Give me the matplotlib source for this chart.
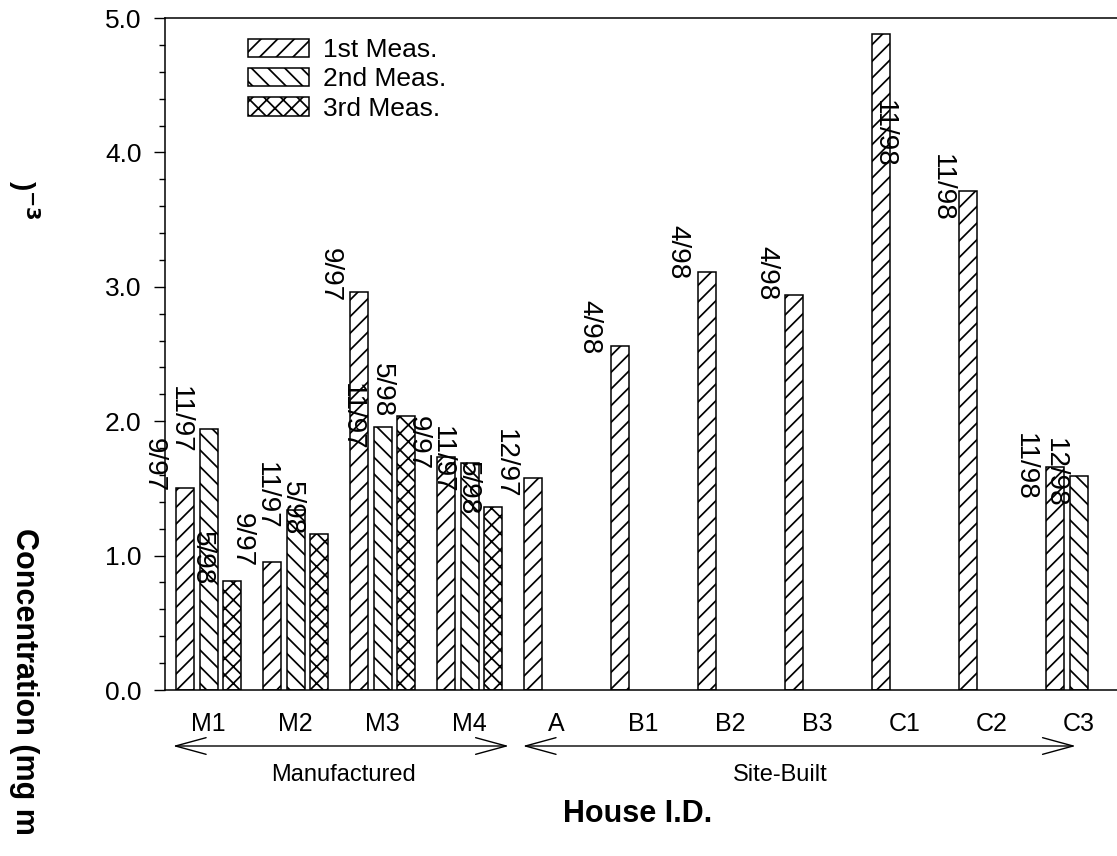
import numpy as np
import matplotlib
matplotlib.use("Agg")
import matplotlib.pyplot as plt
from matplotlib.patches import FancyArrowPatch
import matplotlib.transforms as mtransforms

plt.rcParams['font.family'] = ['Liberation Sans', 'DejaVu Sans']
plt.rcParams['hatch.linewidth'] = 1.25
plt.rcParams['mathtext.default'] = 'bf'

# ---------------- data ----------------
houses = ['M1', 'M2', 'M3', 'M4', 'A', 'B1', 'B2', 'B3', 'C1', 'C2', 'C3']
series_names = ['1st Meas.', '2nd Meas.', '3rd Meas.']
meas1 = [1.50, 0.95, 2.96, 1.73, 1.58, 2.56, 3.11, 2.94, 4.88, 3.71, 1.66]
meas2 = [1.94, 1.34, 1.96, 1.69, None, None, None, None, None, None, 1.59]
meas3 = [0.81, 1.16, 2.04, 1.36, None, None, None, None, None, None, None]

# date labels: text, x (data), y (data)
date_text = ['9/97', '11/97', '5/98', '9/97', '11/97', '5/98',
             '9/97', '11/97', '5/98', '9/97', '11/97', '5/98',
             '12/97', '4/98', '4/98', '4/98', '11/98', '11/98', '11/98', '12/98']
date_x = [-0.627, -0.334, -0.076, 0.384, 0.660, 0.959,
          1.395, 1.648, 1.992, 2.406, 2.682, 2.981,
          3.406, 4.382, 5.393, 6.416, 7.760, 8.427, 9.380, 9.725]
date_y = [1.674, 2.009, 0.982, 1.116, 1.443, 1.354,
          3.088, 2.031, 2.232, 1.838, 1.711, 1.503,
          1.682, 2.701, 3.259, 3.103, 4.137, 3.735, 1.659, 1.615]

groups = ['Manufactured', 'Site-Built']
group_span = [(-0.409, 3.451), (3.612, 9.966)]
group_text_x = [1.555, 6.565]

yticks = [0.0, 1.0, 2.0, 3.0, 4.0, 5.0]

# ---------------- figure ----------------
W, H = 1117, 856
fig = plt.figure(figsize=(W / 100, H / 100), dpi=100)
ax = fig.add_axes([165 / W, 166 / H, (W - 165) / W, 672 / H])

offsets = [-0.27, 0.0, 0.27]
width = 0.207
hatches = ['//', '\\\\', 'xx']
series = [meas1, meas2, meas3]
x = np.arange(len(houses))
for s, (vals, off, hat, name) in enumerate(zip(series, offsets, hatches, series_names)):
    idx = [i for i, v in enumerate(vals) if v is not None]
    ax.bar(x[idx] + off, [vals[i] for i in idx], width=width, hatch=hat,
           facecolor='white', edgecolor='black', linewidth=1.1, label=name)

for t, tx, ty in zip(date_text, date_x, date_y):
    ax.text(tx, ty, t, rotation=270, ha='center', va='center', fontsize=20)

ax.set_xlim(-0.5, 10.44)
ax.set_ylim(0, 5.0)
ax.set_xticks(x)
ax.set_xticklabels(houses, fontsize=18)
ax.set_yticks(yticks)
ax.set_yticklabels([f'{v:.1f}' for v in yticks], fontsize=19)
ax.set_yticks(np.arange(0, 5.01, 0.2), minor=True)
ax.tick_params(axis='x', length=0, pad=16)
ax.tick_params(axis='y', which='major', length=8, width=1.0, pad=9, direction='out')
ax.tick_params(axis='y', which='minor', length=4.5, width=1.0, direction='out')
ax.spines['right'].set_visible(False)
for sp in ['left', 'bottom', 'top']:
    ax.spines[sp].set_linewidth(1.1)

leg = ax.legend(loc='upper left', bbox_to_anchor=(248 / W, 1 - 38 / H),
                bbox_transform=fig.transFigure, frameon=False, fontsize=19,
                handlelength=2.3, handleheight=0.7, handletextpad=0.55,
                labelspacing=0.2, borderpad=0, borderaxespad=0)

# group arrows below axis
trans = mtransforms.blended_transform_factory(ax.transData, fig.transFigure)
arrow_y = 1 - 746 / H
for (x0, x1), gx, gname in zip(group_span, group_text_x, groups):
    arr = FancyArrowPatch((x0, arrow_y), (x1, arrow_y), transform=trans,
                          arrowstyle='<->,head_length=1.1,head_width=0.3',
                          mutation_scale=20, linewidth=1.0, color='black',
                          clip_on=False, shrinkA=0, shrinkB=0)
    fig.add_artist(arr)
    fig.text(gx, 1 - 775 / H, gname, transform=trans, ha='center', va='center',
             fontsize=17)

fig.text(4.934, 1 - 814 / H, 'House I.D.', transform=trans, ha='center',
         va='center', fontsize=22, fontweight='bold')

# broken y-axis label, as in the reference
fig.text(24 / W, 1 - 528 / H, 'Concentration (mg m', rotation=270, ha='center',
         va='top', fontsize=22, fontweight='bold')
fig.text(24 / W, 1 - 180 / H, r')$^{-3}$', rotation=270, ha='center',
         va='top', fontsize=20, fontweight='bold')

fig.savefig('out.png', dpi=100)
